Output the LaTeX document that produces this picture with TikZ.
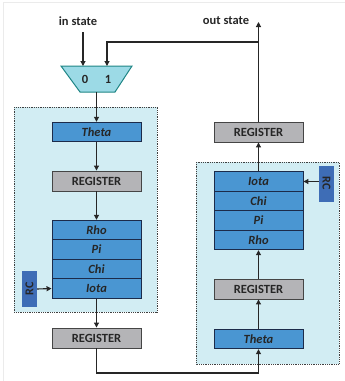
\documentclass[tikz,border=0pt]{standalone}
\usepackage{fontspec}
\setmainfont{Carlito}
\usetikzlibrary{arrows.meta,shapes.geometric}
\definecolor{bluebox}{HTML}{4A96D2}
\definecolor{bluedge}{HTML}{1C2B4A}
\definecolor{regfill}{HTML}{B4B4B7}
\definecolor{regedge}{HTML}{454545}
\definecolor{areafill}{HTML}{D2EDF3}
\definecolor{muxfill}{HTML}{9CDAE6}
\definecolor{muxedge}{HTML}{1E8585}
\definecolor{rcfill}{HTML}{3E6DB6}
\definecolor{wire}{HTML}{262626}
\tikzset{
  px/.style={x=1pt,y=-1pt},
  fn/.style={draw=bluedge,fill=bluebox,line width=0.9pt,minimum width=89pt,minimum height=19.5pt,inner sep=0pt,font=\bfseries\itshape\fontsize{12.5}{14}\selectfont,text=black!85},
  reg/.style={draw=regedge,fill=regfill,line width=0.9pt,minimum width=89pt,minimum height=20pt,inner sep=0pt,font=\bfseries\fontsize{12.5}{14}\selectfont,text=black!85},
  area/.style={draw=black!75,fill=areafill,densely dotted,line width=0.8pt},
  rcbox/.style={fill=rcfill,minimum width=15pt,minimum height=36pt,inner sep=0pt,font=\bfseries\fontsize{12}{14}\selectfont,text=black!85},
  lbl/.style={font=\bfseries\fontsize{12.5}{14}\selectfont,text=black!85,inner sep=0pt},
  arr/.style={draw=wire,line width=1.1pt,-{Triangle[length=5pt,width=5pt]}},
  ln/.style={draw=wire,line width=1.1pt},
}
\begin{document}
\begin{tikzpicture}[px]
\useasboundingbox (0,0) rectangle (345,381);
\draw[black!8,line width=1pt] (3.5,381) -- (3.5,2.5) -- (345,2.5);
% areas
\draw[area] (14,107) rectangle (157,312);
\draw[area] (196,162) rectangle (339,364);
% labels
\node[lbl] (in) at (78,21) {in state};
\node[lbl] (out) at (226,21) {out state};
% mux
\path[draw=muxedge,fill=muxfill,line width=1pt] (61,66) -- (132,66) -- (115,92) -- (80,92) -- cycle;
\coordinate (muxtop0) at (83,66);
\coordinate (muxtop1) at (107,66);
\coordinate (muxbot) at (96.5,92);
\node[lbl] (z0) at (85,79.5) {0};
\node[lbl] (z1) at (108,79.5) {1};
% left column
\node[fn] (thetaL) at (96.5,132) {Theta};
\node[reg] (regL1) at (96.5,181) {REGISTER};
\node[fn] (rhoL) at (96.5,230) {Rho};
\node[fn] (piL) at (96.5,249.5) {Pi};
\node[fn] (chiL) at (96.5,269) {Chi};
\node[fn] (iotaL) at (96.5,288.5) {Iota};
\node[rcbox] (rcL) at (29.5,289) {\rotatebox{90}{RC}};
\node[reg] (regL2) at (96.5,338) {REGISTER};
% right column
\node[reg] (regR2) at (258.5,132) {REGISTER};
\node[fn] (iotaR) at (258.5,181.5) {Iota};
\node[fn] (chiR) at (258.5,201) {Chi};
\node[fn] (piR) at (258.5,220.5) {Pi};
\node[fn] (rhoR) at (258.5,240) {Rho};
\node[rcbox] (rcR) at (326.5,183.5) {\rotatebox{-90}{RC}};
\node[reg] (regR1) at (258.5,289) {REGISTER};
\node[fn] (thetaR) at (258.5,339) {Theta};
\coordinate (fbR) at (258.5,42);
\coordinate (fbL) at (107,42);
\coordinate (botL) at (96.5,373);
\coordinate (botR) at (258.5,373);
\coordinate (outtip) at (258.5,22);
\coordinate (intop) at (83,32);
% connectors
\draw[arr] (intop) -- (muxtop0);
\draw[arr] (fbR) -- (fbL) -- (muxtop1);
\draw[arr] (muxbot) -- (thetaL.north);
\draw[arr] (thetaL.south) -- (regL1.north);
\draw[arr] (regL1.south) -- (rhoL.north);
\draw[arr] (rcL.east) -- (iotaL.west);
\draw[arr] (iotaL.south) -- (regL2.north);
\draw[arr] (regL2.south) -- (botL) -- (botR) -- (thetaR.south);
\draw[arr] (thetaR.north) -- (regR1.south);
\draw[arr] (regR1.north) -- (rhoR.south);
\draw[arr] (rcR.west |- iotaR.east) -- (iotaR.east);
\draw[arr] (iotaR.north) -- (regR2.south);
\draw[arr] (regR2.north) -- (outtip);
\end{tikzpicture}
\end{document}
